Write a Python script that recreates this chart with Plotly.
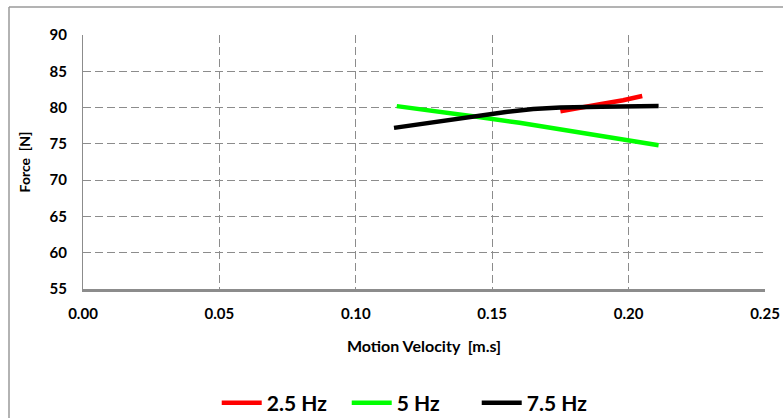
import plotly.graph_objects as go

# Measured force vs. motion velocity for three excitation frequencies
vel_2_5hz = [0.175, 0.182, 0.190, 0.198, 0.205]
force_2_5hz = [79.5, 79.9, 80.5, 81.0, 81.6]

vel_5hz = [0.115, 0.130, 0.145, 0.160, 0.175, 0.190, 0.211]
force_5hz = [80.2, 79.5, 78.7, 77.9, 77.0, 76.2, 74.8]

vel_7_5hz = [0.114, 0.125, 0.135, 0.145, 0.155, 0.165, 0.175, 0.190, 0.211]
force_7_5hz = [77.2, 77.8, 78.4, 79.0, 79.4, 79.8, 80.0, 80.1, 80.2]

series = [
    ("2.5 Hz", vel_2_5hz, force_2_5hz, "#ff0000"),
    ("5 Hz", vel_5hz, force_5hz, "#00ff00"),
    ("7.5 Hz", vel_7_5hz, force_7_5hz, "#000000"),
]

x_ticks = [0.00, 0.05, 0.10, 0.15, 0.20, 0.25]
y_ticks = [55, 60, 65, 70, 75, 80, 85, 90]

FONT = "Lato"
GRID = "#8c8c8c"

fig = go.Figure()
for name, xs, ys, color in series:
    fig.add_trace(go.Scatter(
        x=xs, y=ys, name=name, mode="lines",
        line=dict(color=color, width=4.5),
    ))

fig.update_layout(
    width=783, height=418,
    margin=dict(l=83, r=18, t=35, b=129, autoexpand=False),
    paper_bgcolor="white", plot_bgcolor="white",
    font=dict(family=FONT, color="black"),
    showlegend=True,
    legend=dict(
        orientation="h", x=0.482, xanchor="center",
        y=-0.449, yanchor="middle",
        font=dict(family=FONT, size=21, color="black", weight="bold"),
        itemwidth=40, tracegroupgap=0,
        entrywidth=75, entrywidthmode="pixels",
    ),
    xaxis=dict(
        range=[0, 0.25], tickvals=x_ticks,
        ticktext=[f"{v:.2f}" for v in x_ticks],
        showgrid=True, gridcolor=GRID, gridwidth=1, griddash="8px,4px",
        zeroline=False, showline=True, linecolor="#8c8c8c", linewidth=3,
        ticks="", ticklabelstandoff=9, automargin=False,
        tickfont=dict(family=FONT, size=15, weight="bold"),
        title=dict(text="Motion Velocity  [m.s]", standoff=20,
                   font=dict(family=FONT, size=16, weight="bold")),
    ),
    yaxis=dict(
        range=[55, 90], tickvals=y_ticks,
        showgrid=True, gridcolor=GRID, gridwidth=1, griddash="8px,4px",
        zeroline=False, showline=True, linecolor="#8c8c8c", linewidth=1,
        ticks="", ticklabelstandoff=12, automargin=False,
        tickfont=dict(family=FONT, size=15, weight="bold"),
        title=dict(text="Force  [N]", standoff=15,
                   font=dict(family=FONT, size=14, weight="bold")),
    ),
)

# Outer chart-area frame (top and left edges visible)
fig.add_shape(type="line", xref="paper", yref="paper",
              x0=-0.1085, x1=1.2, y0=1.110, y1=1.110,
              line=dict(color="#9a9a9a", width=1.5))
fig.add_shape(type="line", xref="paper", yref="paper",
              x0=-0.1085, x1=-0.1085, y0=1.110, y1=-0.6,
              line=dict(color="#9a9a9a", width=1.5))

fig.write_html("out.html")
